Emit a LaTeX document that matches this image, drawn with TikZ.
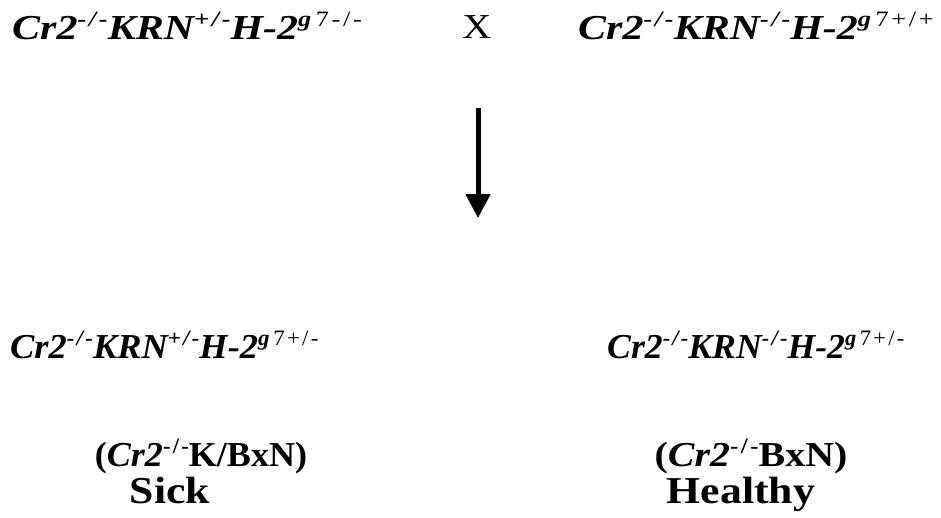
\documentclass[tikz,border=0pt]{standalone}
\usepackage{fontspec}
\setmainfont{Liberation Serif}
\usetikzlibrary{arrows.meta}
\newcommand{\gs}[1]{\raisebox{0.36em}{\fontsize{22}{23}\selectfont\addfontfeature{LetterSpace=10}#1}}
\newcommand{\geno}[2]{\bfseries\itshape Cr2\gs{-/-}KRN\gs{#1}H-2\gs{g\,\upshape\mdseries #2}}
\tikzset{
  lbl/.style={inner sep=0pt, font=\fontsize{35}{38}\selectfont},
  big/.style={inner sep=0pt, font=\fontsize{38}{40}\selectfont},
  arr/.style={line width=5pt, -{Triangle[width=24pt,length=24pt]}}
}
\begin{document}
\begin{tikzpicture}[x=1pt,y=1pt]
\useasboundingbox (0,0) rectangle (941,-517);
\node[lbl, anchor=base west] (p1) at (12,-39) {\scalebox{1.2}[1]{\geno{+/-}{7-/-}}};
\node[lbl, anchor=base] (x) at (477,-38) {\scalebox{1.15}[1]{X}};
\node[lbl, anchor=base west] (p2) at (578,-39) {\scalebox{1.2}[1]{\geno{-/-}{7+/+}}};
\coordinate (a1) at (478,-108);
\coordinate (a2) at (478,-218);
\draw[arr] (a1) -- (a2);
\node[lbl, anchor=base west] (o1) at (10,-358) {\scalebox{1.04}[1]{\geno{+/-}{7+/-}}};
\node[lbl, anchor=base west] (o2) at (607,-358) {\scalebox{1.02}[1]{\geno{-/-}{7+/-}}};
\node[lbl, anchor=base] (n1) at (201,-466) {\scalebox{1.03}[1]{\bfseries(\textit{Cr2}\gs{-/-}K/BxN)}};
\node[big, anchor=base] (s1) at (170,-503) {\scalebox{1.15}[1]{\bfseries Sick}};
\node[lbl, anchor=base] (n2) at (751,-466) {\scalebox{1.14}[1]{\bfseries(\textit{Cr2}\gs{-/-}BxN)}};
\node[big, anchor=base] (s2) at (741,-503) {\scalebox{1.15}[1]{\bfseries Healthy}};
\end{tikzpicture}
\end{document}
